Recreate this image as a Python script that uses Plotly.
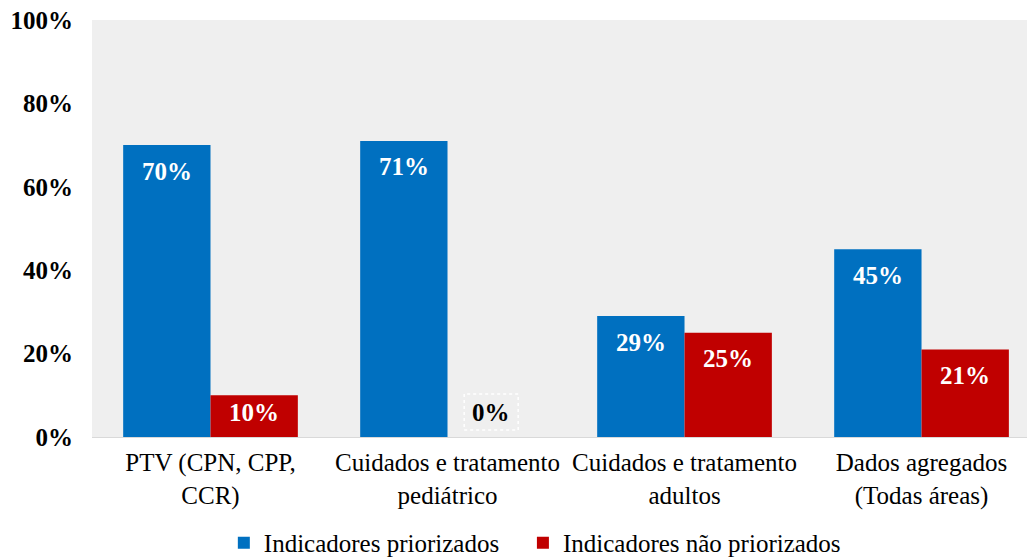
import plotly.graph_objects as go

categories = ["PTV (CPN, CPP,<br>CCR)", "Cuidados e tratamento<br>pediátrico",
              "Cuidados e tratamento<br>adultos", "Dados agregados<br>(Todas áreas)"]
priorizados = [70, 71, 29, 45]
nao_priorizados = [10, 0, 25, 21]
series_names = ["Indicadores priorizados", "Indicadores não priorizados"]
y_ticks = [0, 20, 40, 60, 80, 100]
y_tick_labels = ["0%", "20%", "40%", "60%", "80%", "100%"]

FONT = "Liberation Serif"
BARGAP = 0.263
W, H = 1027, 559
M = dict(l=92, r=0, t=20, b=122, autoexpand=False)
PLOT_H = H - M["t"] - M["b"]
PX_PER_UNIT = PLOT_H / 100.0
NBSP = "\u00a0"
X_RANGE = [-0.5, 3.445]   # the right edge of the original chart is cropped

fig = go.Figure()
xs = list(range(len(categories)))
fig.add_trace(go.Bar(x=xs, y=priorizados, name=series_names[0] + NBSP * 3,
                     marker_color="#0070C0", marker_line_width=0))
fig.add_trace(go.Bar(x=xs, y=nao_priorizados, name=series_names[1],
                     marker_color="#C00000", marker_line_width=0))

half = (1 - BARGAP) / 4
annotations = []
shapes = []
for series, off in ((priorizados, -half), (nao_priorizados, half)):
    for i, v in enumerate(series):
        if v == 0:
            annotations.append(dict(x=i + off, y=v, xref="x", yref="y", text=f"<b>{v}%</b>",
                                    showarrow=False, yanchor="middle", yshift=25,
                                    font=dict(family=FONT, size=25, color="black")))
            shapes.append(dict(type="rect", xref="x", yref="y", xsizemode="pixel",
                               ysizemode="pixel", xanchor=i + off, yanchor=v,
                               x0=-27, x1=27, y0=7, y1=43,
                               line=dict(color="white", width=1.5, dash="dot")))
        else:
            h = v * PX_PER_UNIT
            shift = min(26, h - 25)
            annotations.append(dict(x=i + off, y=v, xref="x", yref="y", text=f"<b>{v}%</b>",
                                    showarrow=False, yanchor="middle", yshift=-shift,
                                    font=dict(family=FONT, size=25, color="white")))

fig.update_layout(
    width=W, height=H,
    margin=M,
    paper_bgcolor="white",
    plot_bgcolor="#efefef",
    barmode="group",
    bargap=BARGAP,
    bargroupgap=0,
    font=dict(family=FONT, size=25, color="black"),
    showlegend=True,
    legend=dict(orientation="h", x=0.141, xanchor="left", y=-0.254, yanchor="middle",
                font=dict(family=FONT, size=25), itemwidth=30, traceorder="normal"),
    annotations=annotations,
    shapes=shapes,
)
fig.update_xaxes(showgrid=False, showline=True, linecolor="#d9d9d9", linewidth=1,
                 tickvals=xs, ticktext=categories, range=X_RANGE,
                 tickfont=dict(family=FONT, size=25), ticks="", automargin=False,
                 ticklabelstandoff=3)
fig.update_yaxes(range=[0, 100], tickvals=y_ticks, ticktext=y_tick_labels,
                 showgrid=False, zeroline=False, showline=False,
                 tickfont=dict(family=FONT, size=25, weight="bold"), ticks="",
                 ticklabelstandoff=18, automargin=False)

fig.write_html("out.html", config={"displayModeBar": False},
               post_script="document.body.style.margin='0';")
